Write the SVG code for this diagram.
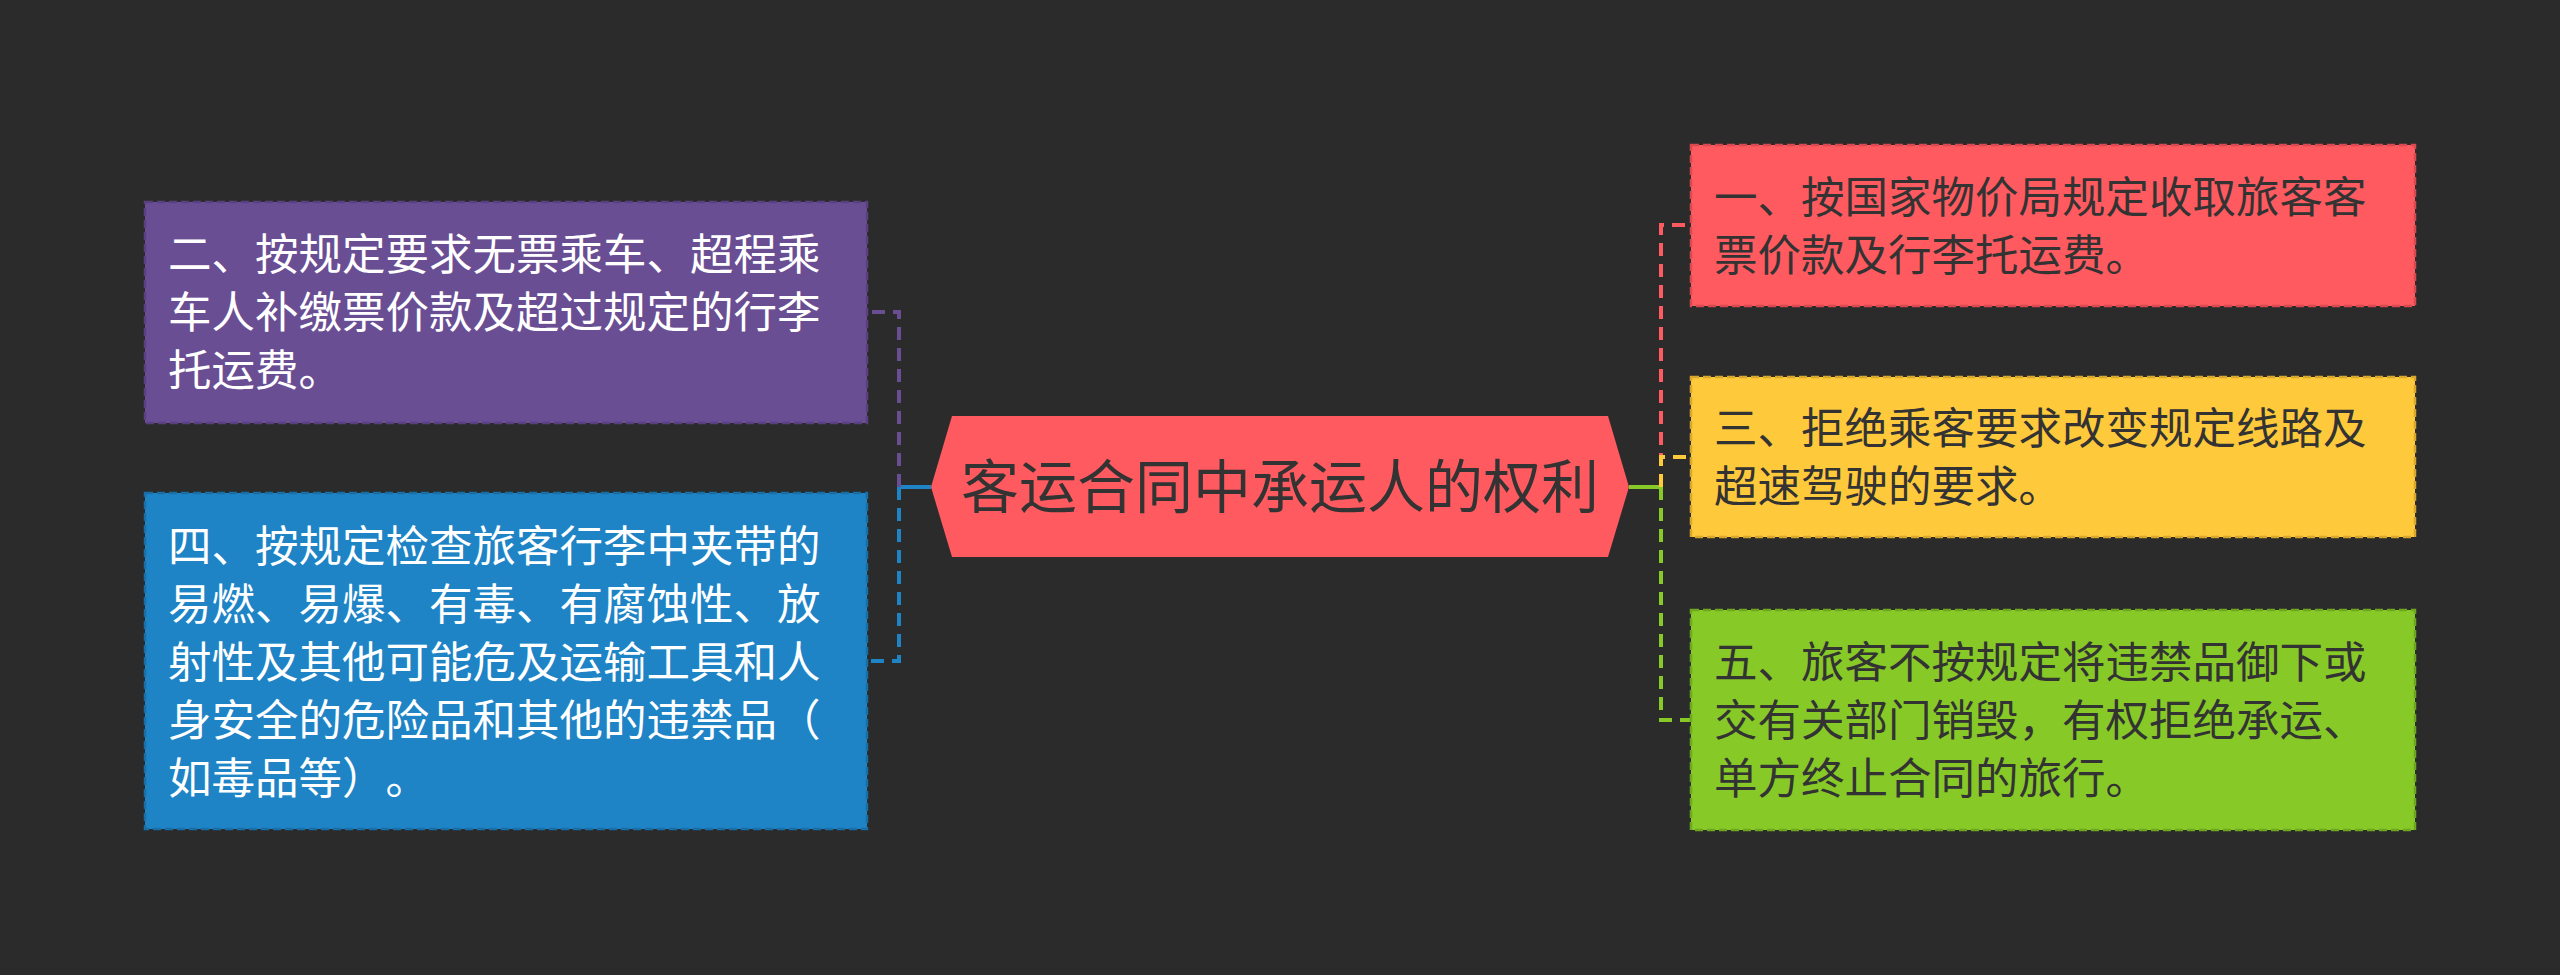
<svg xmlns="http://www.w3.org/2000/svg" width="2560" height="975" viewBox="0 0 2560 975">
<style>
text{text-spacing-trim:space-all}
.t{font-family:"Noto Sans CJK SC","Noto Sans",sans-serif;font-size:43.5px}
.w{fill:#ffffff}
.d{fill:#333333}
.box{stroke-width:2.5;stroke-dasharray:8 4}
.c{fill:none;stroke-width:4;stroke-dasharray:13 8}
</style>
<rect width="2560" height="975" fill="#2b2b2b"/>
<g id="connectors">
<line x1="931" y1="487" x2="898" y2="487" stroke="#1e84c6" stroke-width="4"/>
<line x1="1629" y1="487" x2="1662" y2="487" stroke="#87c927" stroke-width="4"/>
<path class="c" d="M899 487 V312 H867" stroke="#6a4e94"/>
<path class="c" d="M899 487 V661 H867" stroke="#1e84c6"/>
<path class="c" d="M1661 487 V225 H1691" stroke="#ff5a5f"/>
<path class="c" d="M1661 487 V720 H1691" stroke="#87c927"/>
<path class="c" d="M1661 487 V457 H1691" stroke="#ffc93c"/>
</g>
<g id="center">
<polygon points="931,487 952,416 1608,416 1629,487 1608,557 952,557" fill="#ff5a5f"/>
<text x="1280" y="508" text-anchor="middle" font-family="'Noto Sans CJK SC','Noto Sans',sans-serif" font-size="58" fill="#333333">客运合同中承运人的权利</text>
</g>
<g id="node2">
<rect class="box" x="145" y="202" width="722" height="221" fill="#6a4e94" stroke="#5a4080"/>
<text class="t w" x="168"><tspan x="168" y="270">二、按规定要求无票乘车、超程乘</tspan><tspan x="168" y="328">车人补缴票价款及超过规定的行李</tspan><tspan x="168" y="386">托运费。</tspan></text>
</g>
<g id="node4">
<rect class="box" x="145" y="493" width="722" height="336" fill="#1e84c6" stroke="#1a6ea6"/>
<text class="t w" x="168"><tspan x="168" y="562">四、按规定检查旅客行李中夹带的</tspan><tspan x="168" y="620">易燃、易爆、有毒、有腐蚀性、放</tspan><tspan x="168" y="678">射性及其他可能危及运输工具和人</tspan><tspan x="168" y="736">身安全的危险品和其他的违禁品（</tspan><tspan x="168" y="794">如毒品等）。</tspan></text>
</g>
<g id="node1">
<rect class="box" x="1691" y="145" width="724" height="161" fill="#ff5a5f" stroke="#d84a50"/>
<text class="t d" x="1714"><tspan x="1714" y="213">一、按国家物价局规定收取旅客客</tspan><tspan x="1714" y="271">票价款及行李托运费。</tspan></text>
</g>
<g id="node3">
<rect class="box" x="1691" y="377" width="724" height="160" fill="#ffc93c" stroke="#d8a82c"/>
<text class="t d" x="1714"><tspan x="1714" y="444">三、拒绝乘客要求改变规定线路及</tspan><tspan x="1714" y="502">超速驾驶的要求。</tspan></text>
</g>
<g id="node5">
<rect class="box" x="1691" y="610" width="724" height="220" fill="#87c927" stroke="#6ea81e"/>
<text class="t d" x="1714"><tspan x="1714" y="678">五、旅客不按规定将违禁品御下或</tspan><tspan x="1714" y="736">交有关部门销毁，有权拒绝承运、</tspan><tspan x="1714" y="794">单方终止合同的旅行。</tspan></text>
</g>
</svg>
